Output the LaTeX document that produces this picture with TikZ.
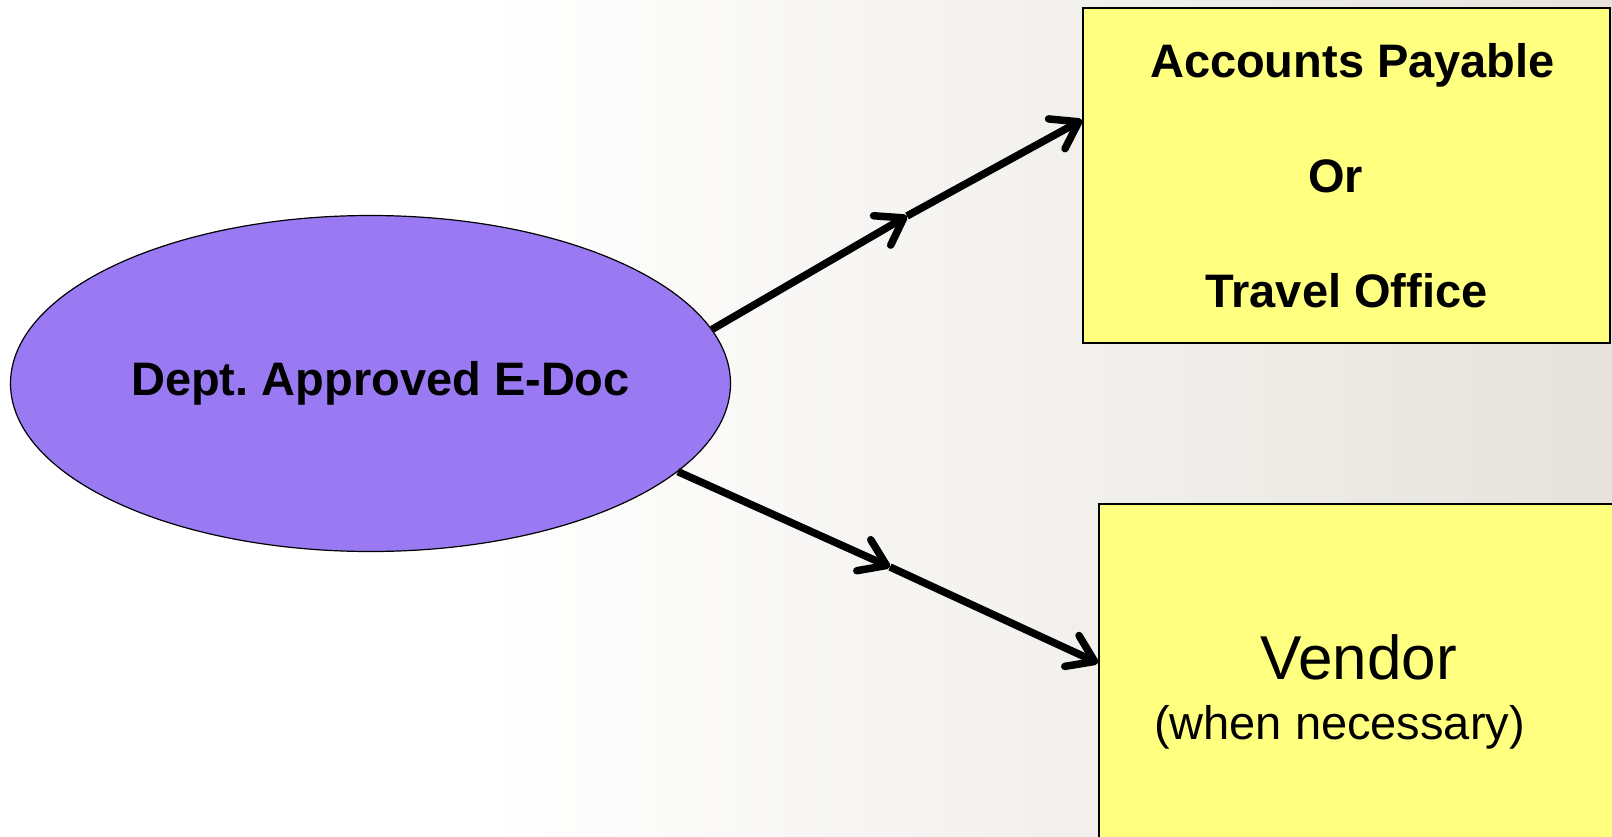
\documentclass[tikz,border=0pt]{standalone}
\usepackage{fontspec}
\setmainfont{Liberation Sans}
\usepackage{tikz}
\usetikzlibrary{shapes,arrows.meta,positioning,calc}
\definecolor{docpurple}{RGB}{154,122,242}
\definecolor{boxyellow}{RGB}{255,255,128}
\definecolor{bgtan}{RGB}{230,227,220}

\begin{document}
\frenchspacing
\begin{tikzpicture}[
    x=1pt, y=-1pt,
    every node/.style={font=\fontsize{47}{115}\selectfont\bfseries},
    edoc/.style={ellipse, draw=black, line width=1.2pt, fill=docpurple, minimum width=720pt, minimum height=336pt, inner sep=0pt},
    office/.style={rectangle, draw=black, line width=2pt, fill=boxyellow, minimum width=527pt, minimum height=335pt, align=center, inner sep=0pt},
    vendor/.style={rectangle, draw=black, line width=2pt, fill=boxyellow, minimum width=519pt, minimum height=376pt, align=center, inner sep=0pt, font=\fontsize{47}{60}\selectfont},
    arrow/.style={-{Straight Barb[length=25pt, width=34pt, round]}, line width=7.5pt}
]

% Background
\useasboundingbox (0,0) rectangle (1612,836);
\clip (0,0) rectangle (1612,836);
\fill[white] (0,0) rectangle (480,836);
\shade[left color=white, right color=bgtan] (480,0) rectangle (1612,836);

% Source document
\node[edoc] (doc) at (370.5,383.5) {\makebox[0pt]{\hspace*{20pt}Dept. Approved E-Doc}};

% Destinations
\node[office] (ap) at (1346.5,175.5) {\hspace*{12pt}Accounts Payable\\Or\hspace*{22pt}\mbox{}\\Travel Office};
\node[vendor] (vd) at (1358.5,692) {{\fontsize{62}{60}\selectfont Vendor}\\(when necessary)\hspace*{38pt}};

% Mid points of the connectors
\coordinate (apmid) at (907,216);
\coordinate (vdmid) at (890,567);

% Connections
\draw[arrow] (doc.9) -- (apmid);
\draw[arrow] (apmid) -- (ap.west |- 0,120);
\draw[arrow] (doc.-16) -- (vdmid);
\draw[arrow] (vdmid) -- (vd.west |- 0,663);

\end{tikzpicture}
\end{document}
